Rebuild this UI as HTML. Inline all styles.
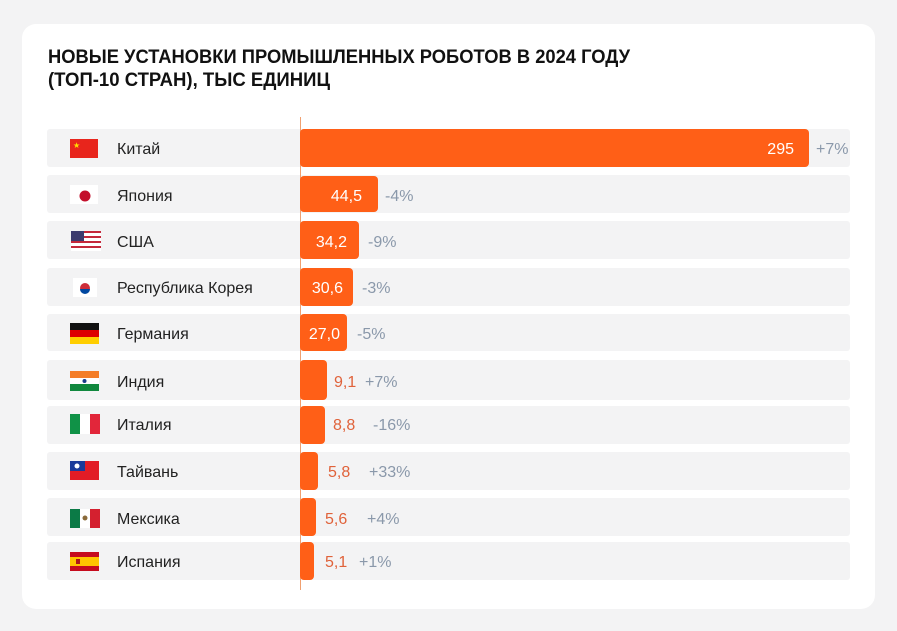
<!DOCTYPE html>
<html><head><meta charset="utf-8"><style>
html,body{margin:0;padding:0;background:#f3f3f4;}
svg{display:block;font-family:"Liberation Sans",sans-serif;}
</style></head><body>
<svg width="897" height="631" viewBox="0 0 897 631">
<rect x="0" y="0" width="897" height="631" fill="#f3f3f4"/>
<rect x="22" y="24" width="853" height="585" rx="14" fill="#ffffff"/>
<text x="48" y="63" font-size="19" font-weight="bold" fill="#111" textLength="582" lengthAdjust="spacingAndGlyphs">НОВЫЕ УСТАНОВКИ ПРОМЫШЛЕННЫХ РОБОТОВ В 2024 ГОДУ</text>
<text x="48" y="86" font-size="19" font-weight="bold" fill="#111" textLength="282" lengthAdjust="spacingAndGlyphs">(ТОП-10 СТРАН), ТЫС ЕДИНИЦ</text>
<g fill="#f3f3f4">
<rect x="47" y="129" width="803" height="38" rx="3"/>
<rect x="47" y="175" width="803" height="38" rx="3"/>
<rect x="47" y="221" width="803" height="38" rx="3"/>
<rect x="47" y="268" width="803" height="38" rx="3"/>
<rect x="47" y="314" width="803" height="37" rx="3"/>
<rect x="47" y="360" width="803" height="40" rx="3"/>
<rect x="47" y="406" width="803" height="38" rx="3"/>
<rect x="47" y="452" width="803" height="38" rx="3"/>
<rect x="47" y="498" width="803" height="38" rx="3"/>
<rect x="47" y="542" width="803" height="38" rx="3"/>
</g>
<line x1="300.5" y1="117" x2="300.5" y2="590" stroke="#f0a070" stroke-width="1"/>
<g fill="#ff5f17">
<rect x="300" y="129" width="509" height="38" rx="4"/>
<rect x="300" y="176" width="78" height="36" rx="4"/>
<rect x="300" y="221" width="59" height="38" rx="4"/>
<rect x="300" y="268" width="53" height="38" rx="4"/>
<rect x="300" y="314" width="47" height="37" rx="4"/>
<rect x="300" y="360" width="27" height="40" rx="4"/>
<rect x="300" y="406" width="25" height="38" rx="4"/>
<rect x="300" y="452" width="18" height="38" rx="4"/>
<rect x="300" y="498" width="16" height="38" rx="4"/>
<rect x="300" y="542" width="14" height="38" rx="4"/>
</g>
<g font-size="16" fill="#222">
<text x="117" y="154">Китай</text>
<text x="117" y="201">Япония</text>
<text x="117" y="247">США</text>
<text x="117" y="293">Республика Корея</text>
<text x="117" y="339">Германия</text>
<text x="117" y="387">Индия</text>
<text x="117" y="430">Италия</text>
<text x="117" y="477">Тайвань</text>
<text x="117" y="524">Мексика</text>
<text x="117" y="567">Испания</text>
</g>
<g font-size="16" fill="#ffffff" text-anchor="end">
<text x="794" y="154">295</text>
<text x="362" y="201">44,5</text>
<text x="347" y="247">34,2</text>
<text x="343" y="293">30,6</text>
<text x="340" y="339">27,0</text>
</g>
<g font-size="16" fill="#e0623a">
<text x="334" y="387">9,1</text>
<text x="333" y="430">8,8</text>
<text x="328" y="477">5,8</text>
<text x="325" y="524">5,6</text>
<text x="325" y="567">5,1</text>
</g>
<g font-size="16" fill="#8a98aa">
<text x="816" y="154">+7%</text>
<text x="385" y="201">-4%</text>
<text x="368" y="247">-9%</text>
<text x="362" y="293">-3%</text>
<text x="357" y="339">-5%</text>
<text x="365" y="387">+7%</text>
<text x="373" y="430">-16%</text>
<text x="369" y="477">+33%</text>
<text x="367" y="524">+4%</text>
<text x="359" y="567">+1%</text>
</g>
<rect x="70" y="139" width="28" height="19" fill="#e8251c"/>
<text x="73" y="148" font-size="8" fill="#ffde00">★</text>
<rect x="70" y="185" width="28" height="19" fill="#fff"/>
<circle cx="85" cy="196" r="5.5" fill="#c3102c"/>
<g>
<rect x="71" y="231" width="30" height="20" fill="#fff"/>
<rect x="71" y="231" width="30" height="2" fill="#c4283a"/>
<rect x="71" y="236" width="30" height="2" fill="#c4283a"/>
<rect x="71" y="241" width="30" height="2" fill="#c4283a"/>
<rect x="71" y="246" width="30" height="2" fill="#c4283a"/>
<rect x="71" y="231" width="13" height="10" fill="#3c3b6e"/>
</g>
<rect x="73" y="278" width="24" height="19" fill="#fff"/>
<circle cx="85" cy="288" r="5" fill="#cd2e3a"/>
<path d="M80 289 a5 5 0 0 0 10 0 z" fill="#0047a0"/>
<rect x="70" y="323" width="29" height="7" fill="#111"/>
<rect x="70" y="330" width="29" height="7" fill="#dd0000"/>
<rect x="70" y="337" width="29" height="7" fill="#ffce00"/>
<rect x="70" y="371" width="29" height="7" fill="#f47d27"/>
<rect x="70" y="378" width="29" height="6" fill="#fff"/>
<circle cx="84.5" cy="381" r="2" fill="#1a3c8a"/>
<rect x="70" y="384" width="29" height="7" fill="#11883e"/>
<rect x="70" y="414" width="10" height="20" fill="#109247"/>
<rect x="80" y="414" width="10" height="20" fill="#fff"/>
<rect x="90" y="414" width="10" height="20" fill="#e2263a"/>
<rect x="70" y="461" width="29" height="19" fill="#e21c26"/>
<rect x="70" y="461" width="15" height="10" fill="#1a3a9a"/>
<circle cx="77" cy="466" r="2.5" fill="#fff"/>
<rect x="70" y="509" width="10" height="19" fill="#0b7a46"/>
<rect x="80" y="509" width="10" height="19" fill="#fff"/>
<rect x="90" y="509" width="10" height="19" fill="#d4202f"/>
<circle cx="85" cy="518" r="2.5" fill="#8a6a3a"/>
<rect x="70" y="552" width="29" height="19" fill="#c60b1e"/>
<rect x="70" y="557" width="29" height="9" fill="#ffc400"/>
<rect x="76" y="559" width="4" height="5" fill="#ad1519"/>
</svg>
</body></html>
